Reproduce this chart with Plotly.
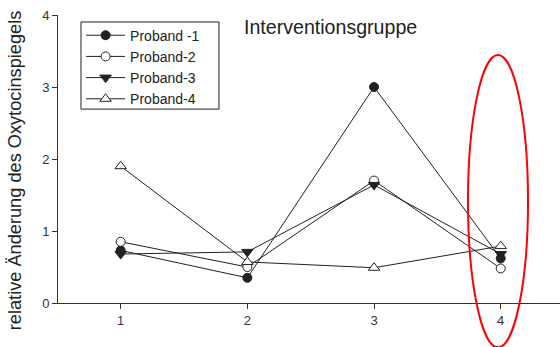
import plotly.graph_objects as go

# Data
zeitpunkte = [1, 2, 3, 4]
proband_1 = [0.73, 0.35, 3.00, 0.62]
proband_2 = [0.85, 0.50, 1.70, 0.48]
proband_3 = [0.68, 0.71, 1.64, 0.68]
proband_4 = [1.90, 0.57, 0.49, 0.79]
namen = ["Proband -1", "Proband-2", "Proband-3", "Proband-4"]
y_ticks = [0, 1, 2, 3, 4]
x_ticks = [1, 2, 3, 4]

FONT = "Liberation Sans, Arial, sans-serif"
LINE = "#222222"

fig = go.Figure()
serien = [proband_1, proband_2, proband_3, proband_4]
symbole = [
    dict(symbol="circle", color=LINE, size=9, line=dict(color=LINE, width=1)),
    dict(symbol="circle", color="white", size=9, line=dict(color=LINE, width=1)),
    dict(symbol="triangle-down", color=LINE, size=10, line=dict(color=LINE, width=1)),
    dict(symbol="triangle-up", color="white", size=10, line=dict(color=LINE, width=1)),
]
for name, werte, m in zip(namen, serien, symbole):
    fig.add_trace(go.Scatter(
        x=zeitpunkte, y=werte, name=name, mode="lines+markers",
        line=dict(color=LINE, width=1), marker=m, cliponaxis=False,
    ))

fig.update_layout(
    width=560, height=347,
    margin=dict(l=58, r=0, t=15, b=44),
    paper_bgcolor="white", plot_bgcolor="white",
    font=dict(family=FONT, color="#222"),
    showlegend=True,
    legend=dict(
        x=0.046, y=0.984, xanchor="left", yanchor="top",
        borderwidth=0, bgcolor="rgba(0,0,0,0)",
        font=dict(size=14, family=FONT, color="#222"),
        tracegroupgap=0, itemwidth=39,
    ),
    xaxis=dict(
        range=[0.505, 4.468], tickvals=x_ticks, ticktext=[str(v) for v in x_ticks],
        showgrid=False, zeroline=False, showline=True, linecolor="#333", linewidth=1,
        ticks="outside", ticklen=5, tickcolor="#333",
        tickfont=dict(size=13, color="#333", family=FONT),
    ),
    yaxis=dict(
        range=[0, 4], tickvals=y_ticks, ticktext=[str(v) for v in y_ticks],
        showgrid=False, zeroline=False, showline=True, linecolor="#333", linewidth=1,
        ticks="outside", ticklen=5, tickcolor="#333",
        tickfont=dict(size=13, color="#333", family=FONT),
    ),
    annotations=[
        dict(text="Interventionsgruppe", xref="paper", yref="paper",
             x=0.543, y=0.96, xanchor="center", yanchor="middle",
             showarrow=False, font=dict(size=19.6, family=FONT, color="#222")),
        dict(text="relative Änderung des Oxytocinspiegels", xref="paper", yref="paper",
             x=-0.0857, y=0.461, xanchor="center", yanchor="middle", textangle=-90,
             showarrow=False, font=dict(size=18.2, family=FONT, color="#222")),
    ],
    shapes=[
        # legend frame
        dict(type="rect", xref="paper", yref="paper", layer="above",
             x0=0.0458, x1=0.3207, y0=0.6733, y1=0.9757,
             line=dict(color="#222", width=1), fillcolor="rgba(0,0,0,0)"),
        # red highlight ellipse
        dict(type="circle", xref="paper", yref="paper",
             x0=0.8167, x1=0.9363, y0=-0.154, y1=0.861,
             line=dict(color="red", width=2), fillcolor="rgba(0,0,0,0)"),
    ],
)

fig.write_html("out.html")
